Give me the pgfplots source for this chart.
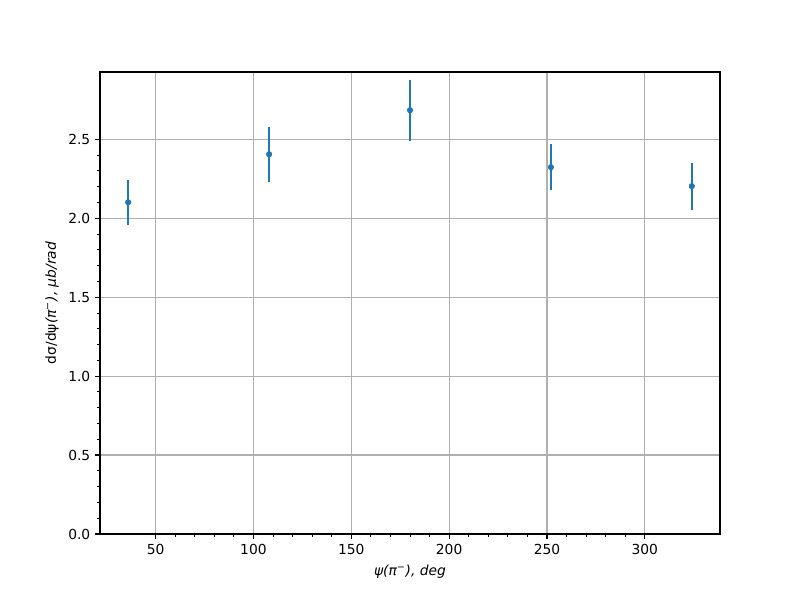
\documentclass[border=0pt]{standalone}
\usepackage{fontspec}
\setmainfont{DejaVu Sans}
\usepackage{pgfplots}
\pgfplotsset{compat=1.18}
\definecolor{mplblue}{HTML}{1F77B4}
\definecolor{gridgray}{HTML}{B0B0B0}
\begin{document}
\begin{tikzpicture}
\path[use as bounding box] (-1in,-0.66in) rectangle (7in,5.34in);
\begin{axis}[
    scale only axis,
    width=6.2in, height=4.62in,
    at={(0,0)}, anchor=south west,
    xmin=21.6, xmax=338.4,
    ymin=0, ymax=2.926,
    xtick={50,100,...,300},
    ytick={0,0.5,...,2.5},
    minor x tick num=4, minor y tick num=4,
    yticklabel style={/pgf/number format/.cd, fixed, fixed zerofill, precision=1},
    /pgf/number format/assume math mode=true,
    tick align=outside, tick pos=left,
    major tick length=3.5pt, minor tick length=2pt,
    every tick/.style={black, line width=0.8pt},
    minor tick style={line width=0.6pt},
    axis line style={line width=0.8pt},
    xmajorgrids, ymajorgrids,
    grid style={gridgray, line width=0.8pt},
    xlabel={\textit{ψ(π\textsuperscript{−}), deg}},
    ylabel={dσ/dψ\textit{(π\textsuperscript{−}), μb/rad}},
    xlabel style={yshift=-1pt},
    ylabel style={yshift=0pt},
]
\addplot+[only marks, mark=*, mark size=2pt, color=mplblue,
    mark options={fill=mplblue, draw=mplblue},
    error bars/.cd, y dir=both, y explicit,
    error bar style={line width=1.5pt, mplblue}, error mark=none]
coordinates {
    (36,2.101)  +- (0,0.142)
    (108,2.405) +- (0,0.173)
    (180,2.684) +- (0,0.193)
    (252,2.323) +- (0,0.146)
    (324,2.203) +- (0,0.149)
};
\end{axis}
\end{tikzpicture}
\end{document}
